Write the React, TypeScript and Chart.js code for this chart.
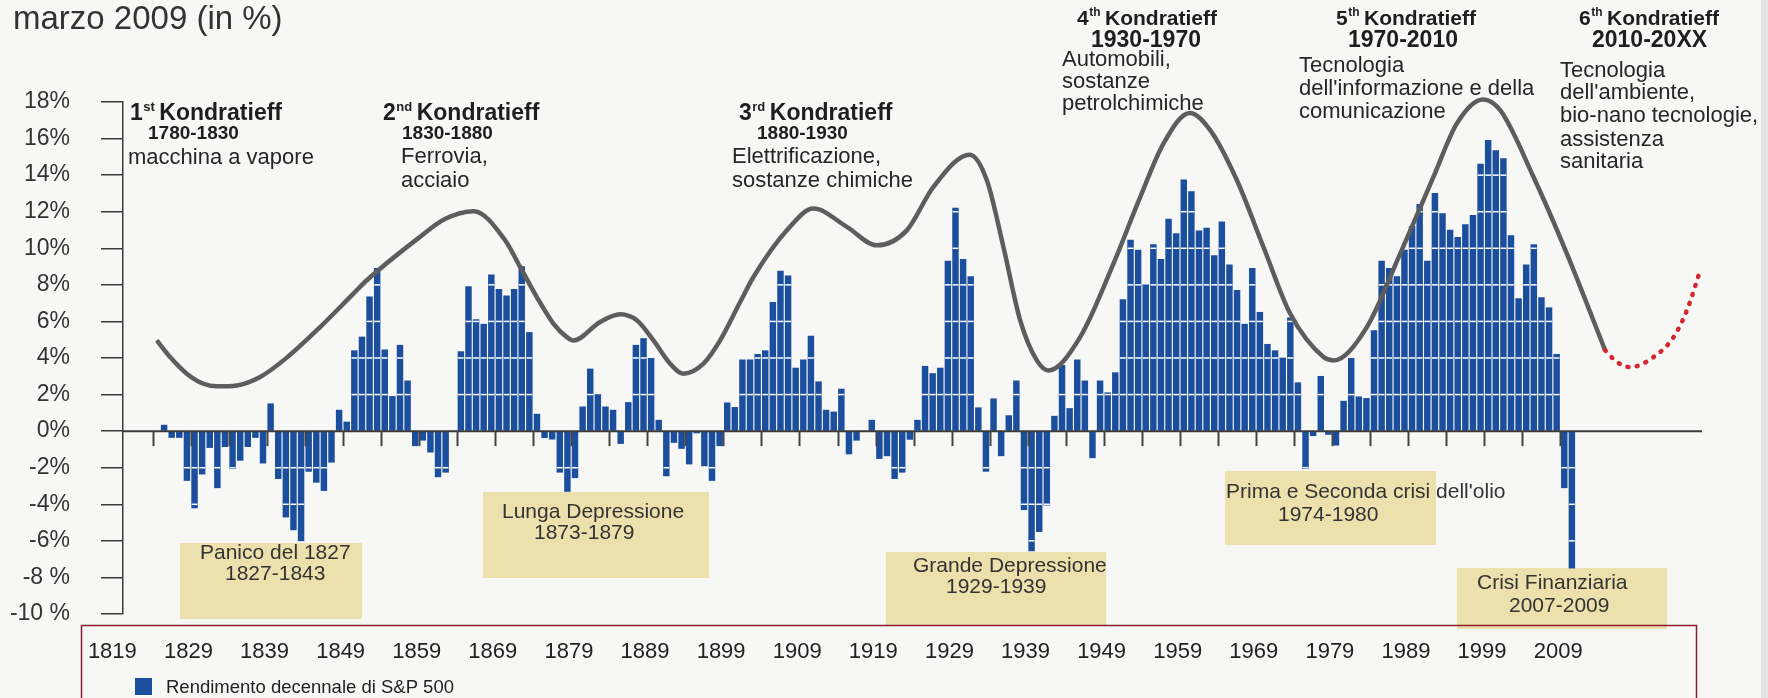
import React, { useEffect, useRef } from 'react';
import { Chart, registerables } from 'chart.js';

Chart.register(...registerables);

// ---------------- data ----------------
const firstYear = 1824;
// 10-year rolling return of the S&P 500 (in %), one value per year
const returns: number[] = [
  0.33, -0.35, -0.35, -2.7, -4.2, -2.35, -0.9, -3.1, -0.85, -2.05,
  -1.6, -0.85, -0.35, -1.75, 1.5, -2.6, -4.7, -5.4, -6.0, -2.2,
  -2.8, -3.25, -1.7, 1.15, 0.5, 4.4, 5.15, 7.35, 8.9, 4.45,
  1.9, 4.7, 2.75, -0.8, -0.5, -1.15, -2.5, -2.25, 0, 4.35,
  7.9, 6.1, 5.85, 8.55, 7.75, 7.4, 7.75, 9.0, 5.4, 0.93,
  -0.36, -0.44, -2.25, -3.3, -2.55, 1.33, 3.4, 2.0, 1.33, 1.15,
  -0.68, 1.57, 4.7, 5.07, 3.98, 0.6, -2.45, -0.62, -0.95, -1.8,
  -0.1, -1.9, -2.7, -0.8, 1.55, 1.3, 3.9, 3.9, 4.2, 4.4,
  7.05, 8.75, 8.5, 3.45, 3.9, 5.2, 2.7, 1.15, 1.05, 2.3,
  -1.25, -0.5, 0, 0.6, -1.5, -1.35, -2.6, -2.25, -0.45, 0.6,
  3.55, 3.15, 3.45, 9.3, 12.2, 9.4, 8.45, 1.28, -2.2, 1.77,
  -1.35, 0.85, 2.75, -4.3, -6.55, -5.5, -4.05, 0.82, 3.6, 1.24,
  3.9, 2.75, -1.46, 2.75, 2.1, 3.2, 7.2, 10.45, 9.9, 8.0,
  10.2, 9.4, 11.6, 10.8, 13.75, 13.1, 10.95, 11.1, 9.6, 11.45,
  9.1, 7.7, 5.85, 8.9, 6.5, 4.75, 4.4, 4.0, 6.2, 2.65,
  -2.05, -0.25, 3.0, -0.18, -0.77, 1.64, 3.98, 1.88, 1.79, 5.5,
  9.3, 8.9, 8.45, 9.9, 11.2, 12.4, 9.3, 13.0, 11.9, 11.0,
  10.6, 11.3, 11.8, 14.6, 15.9, 15.35, 14.9, 10.7, 7.25, 9.1,
  10.2, 7.3, 6.75, 4.2, -3.1, -7.5,
];
const years: number[] = returns.map((_, i) => firstYear + i);

// Kondratieff wave (stylised curve)
const waveX: number[] = [
  1823.04, 1824.79, 1826.98, 1829.16, 1830.93, 1833.55, 1836.62, 1840.13, 1844.5, 1848.88,
  1850.64, 1857.25, 1860.9, 1864.69, 1868.81, 1870.79, 1872.98, 1875.16, 1876.92, 1877.79,
  1881.3, 1883.93, 1886.12, 1888.31, 1890.5, 1892.25, 1894.88, 1897.07, 1899.7, 1901.45,
  1905.84, 1909.33, 1913.72, 1917.67, 1921.6, 1925.1, 1929.89, 1932.12, 1934.3, 1936.5,
  1938.69, 1940.22, 1944.38, 1948.76, 1952.27, 1955.33, 1958.79, 1961.47, 1964.98, 1968.47,
  1971.98, 1976.36, 1977.67, 1982.06, 1986.44, 1990.81, 1993.89, 1997.32, 1999.58, 2003.96,
  2008.34, 2013.37,
];
const waveY: number[] = [
  4.96, 4.05, 3.14, 2.59, 2.45, 2.5, 2.96, 4.02, 5.69, 7.52,
  8.25, 10.5, 11.6, 12.03, 10.44, 8.98, 7.33, 5.88, 5.14, 4.96,
  5.97, 6.39, 6.06, 4.96, 3.69, 3.14, 3.69, 4.96, 7.06, 8.43,
  10.98, 12.17, 11.17, 10.16, 10.98, 13.36, 15.12, 13.72, 10.07, 6.06,
  3.87, 3.32, 5.14, 9.16, 12.8, 15.73, 17.4, 16.46, 13.72, 10.07,
  6.43, 4.05, 3.87, 5.69, 9.71, 13.9, 16.83, 18.14, 17.55, 13.9,
  9.71, 4.42,
];
// projected next wave (dotted red)
const forecastX: number[] = [2013.37, 2014.92, 2016.67, 2019.73, 2022.36, 2024.12, 2025.87];
const forecastY: number[] = [4.42, 3.78, 3.5, 4.05, 5.14, 6.61, 8.8];

const yTickValues: number[] = [18, 16, 14, 12, 10, 8, 6, 4, 2, 0, -2, -4, -6, -8, -10];
const yTickLabels: string[] = ['18%', '16%', '14%', '12%', '10%', '8%', '6%', '4%', '2%', '0%', '-2%', '-4%', '-6%', '-8 %', '-10 %'];
const xTickLabels: string[] = ['1819', '1829', '1839', '1849', '1859', '1869', '1879', '1889', '1899', '1909', '1919', '1929', '1939', '1949', '1959', '1969', '1979', '1989', '1999', '2009'];

const titleText = 'marzo 2009 (in %)';
const legendLabel = 'Rendimento decennale di S&P 500';

const waveOrdinals: string[] = ['1', '2', '3', '4', '5', '6'];
const waveSuffixes: string[] = ['st', 'nd', 'rd', 'th', 'th', 'th'];
const wavePeriods: string[] = ['1780-1830', '1830-1880', '1880-1930', '1930-1970', '1970-2010', '2010-20XX'];
const waveThemes: string[][] = [
  ['macchina a vapore'],
  ['Ferrovia,', 'acciaio'],
  ['Elettrificazione,', 'sostanze chimiche'],
  ['Automobili,', 'sostanze', 'petrolchimiche'],
  ['Tecnologia', "dell'informazione e della", 'comunicazione'],
  ['Tecnologia', "dell'ambiente,", 'bio-nano tecnologie,', 'assistenza', 'sanitaria'],
];
const crisisNames: string[] = ['Panico del 1827', 'Lunga Depressione', 'Grande Depressione', "Prima e Seconda crisi dell'olio", 'Crisi Finanziaria'];
const crisisPeriods: string[] = ['1827-1843', '1873-1879', '1929-1939', '1974-1980', '2007-2009'];

// ---------------- layout & style ----------------
const W = 1768;
const H = 698;
const FAMILY = '"Liberation Sans", Arial, Helvetica, sans-serif';
const pageBg = '#f7f7f6';
const barColor = '#1b4f9d';
const waveColor = '#5d5d5d';
const forecastColor = '#d4262d';
const axisColor = '#3a3a3a';
const boxColor = '#ece1ad';
const frameColor = '#8e1d2d';

const xMin = 1818.6;
const xMax = 2026.1;
const xLabelShift = -1.8;
const minorTickStart = 1822.5;
const minorTickEnd = 2007.5;
const minorTickStep = 5;

const waveLayout = [
  { hx: 130, hy: 114, hs: 23, px: 148, py: 134, ps: 19, tx: 128, ty: [158] },
  { hx: 383, hy: 114, hs: 23, px: 402, py: 134, ps: 19, tx: 401, ty: [157, 181] },
  { hx: 739, hy: 114, hs: 23, px: 757, py: 134, ps: 19, tx: 732, ty: [157, 181] },
  { hx: 1077, hy: 19, hs: 21, px: 1091, py: 41, ps: 23, tx: 1062, ty: [60, 82, 104] },
  { hx: 1336, hy: 19, hs: 21, px: 1348, py: 41, ps: 23, tx: 1299, ty: [66, 89, 112] },
  { hx: 1579, hy: 19, hs: 21, px: 1592, py: 41, ps: 23, tx: 1560, ty: [71, 93, 116, 140, 162] },
];
const crisisLayout = [
  { box: [180, 543, 182, 76], x1: 200, y1: 553, x2: 225, y2: 574 },
  { box: [483, 492, 226, 86], x1: 502, y1: 512, x2: 534, y2: 533 },
  { box: [886, 552, 220, 74], x1: 913, y1: 566, x2: 946, y2: 587 },
  { box: [1225, 471, 211, 74], x1: 1226, y1: 492, x2: 1278, y2: 515 },
  { box: [1457, 568, 210, 61], x1: 1477, y1: 583, x2: 1509, y2: 606 },
];

function drawOrdinal(ctx: CanvasRenderingContext2D, x: number, y: number, size: number, num: string, suf: string, rest: string) {
  ctx.font = `bold ${size}px ${FAMILY}`;
  ctx.fillText(num, x, y);
  let w = ctx.measureText(num).width;
  const sup = Math.round(size * 0.57);
  ctx.font = `bold ${sup}px ${FAMILY}`;
  ctx.fillText(suf, x + w + 0.5, y - size * 0.3);
  w += ctx.measureText(suf).width + 5;
  ctx.font = `bold ${size}px ${FAMILY}`;
  ctx.fillText(rest, x + w, y);
}

const decorPlugin = {
  id: 'decor',
  beforeDraw(chart: any) {
    const { ctx } = chart;
    ctx.save();
    ctx.fillStyle = pageBg;
    ctx.fillRect(0, 0, W, H);
    ctx.fillStyle = '#e4e4e4';
    ctx.fillRect(W - 7, 0, 7, H);
    ctx.restore();
  },
  beforeDatasetsDraw(chart: any) {
    const { ctx } = chart;
    ctx.save();
    // title
    ctx.fillStyle = '#333';
    ctx.textAlign = 'left';
    ctx.textBaseline = 'alphabetic';
    ctx.font = `33px ${FAMILY}`;
    ctx.fillText(titleText, 13, 29);

    // Kondratieff labels
    ctx.textBaseline = 'middle';
    waveLayout.forEach((L, i) => {
      ctx.fillStyle = '#1e1e1e';
      drawOrdinal(ctx, L.hx, L.hy, L.hs, waveOrdinals[i], waveSuffixes[i], 'Kondratieff');
      ctx.font = `bold ${L.ps}px ${FAMILY}`;
      ctx.fillText(wavePeriods[i], L.px, L.py);
      ctx.fillStyle = '#262626';
      ctx.font = `22px ${FAMILY}`;
      waveThemes[i].forEach((t, j) => ctx.fillText(t, L.tx, L.ty[j]));
    });

    // crisis boxes
    crisisLayout.forEach((C, i) => {
      ctx.fillStyle = boxColor;
      ctx.fillRect(C.box[0], C.box[1], C.box[2], C.box[3]);
      ctx.fillStyle = '#333';
      ctx.font = `21px ${FAMILY}`;
      ctx.fillText(crisisNames[i], C.x1, C.y1);
      ctx.fillText(crisisPeriods[i], C.x2, C.y2);
    });
    ctx.restore();
  },
  afterDatasetDraw(chart: any, args: any) {
    if (args.index !== 0) return;
    const { ctx, chartArea } = chart;
    const xs = chart.scales.x;
    const ys = chart.scales.y;
    ctx.save();
    // white grid lines across the bars
    ctx.strokeStyle = '#ffffff';
    ctx.lineWidth = 1.5;
    const levels = yTickValues.filter((v) => v !== 0).map((v) => ys.getPixelForValue(v));
    args.meta.data.forEach((bar: any) => {
      const p = bar.getProps(['x', 'y', 'base', 'width'], true);
      const top = Math.min(p.y, p.base);
      const bottom = Math.max(p.y, p.base);
      levels.forEach((py: number) => {
        if (py > top + 0.8 && py < bottom - 0.8) {
          ctx.beginPath();
          ctx.moveTo(p.x - p.width / 2, py);
          ctx.lineTo(p.x + p.width / 2, py);
          ctx.stroke();
        }
      });
    });
    // zero line
    const y0 = ys.getPixelForValue(0);
    ctx.strokeStyle = axisColor;
    ctx.lineWidth = 2;
    ctx.beginPath();
    ctx.moveTo(chartArea.left, y0);
    ctx.lineTo(chartArea.right, y0);
    ctx.stroke();
    // minor ticks under the zero line
    ctx.strokeStyle = '#444';
    ctx.lineWidth = 2;
    for (let u = minorTickStart; u <= minorTickEnd + 0.01; u += minorTickStep) {
      const px = Math.round(xs.getPixelForValue(u)) + 0.5;
      ctx.beginPath();
      ctx.moveTo(px, y0);
      ctx.lineTo(px, y0 + 15);
      ctx.stroke();
    }
    ctx.restore();
  },
  afterDraw(chart: any) {
    const { ctx } = chart;
    ctx.save();
    // red frame around the year labels and legend
    ctx.strokeStyle = frameColor;
    ctx.lineWidth = 1.5;
    ctx.strokeRect(81.5, 625.5, 1615, 100);
    // legend
    ctx.fillStyle = barColor;
    ctx.fillRect(135, 678, 17, 17);
    ctx.fillStyle = '#222';
    ctx.font = `18.5px ${FAMILY}`;
    ctx.textAlign = 'left';
    ctx.textBaseline = 'middle';
    ctx.fillText(chart.data.datasets[0].label, 166, 688);
    ctx.restore();
  },
};

export default function App() {
  const canvasRef = useRef<HTMLCanvasElement | null>(null);

  useEffect(() => {
    const canvas = canvasRef.current;
    if (!canvas) return;
    const chart = new Chart(canvas, {
      type: 'bar',
      data: {
        datasets: [
          {
            type: 'bar',
            label: legendLabel,
            data: years.map((x, i) => ({ x, y: returns[i] })),
            backgroundColor: barColor,
            barThickness: 5.8,
            order: 3,
          } as any,
          {
            type: 'line',
            label: 'Kondratieff',
            data: waveX.map((x, i) => ({ x, y: waveY[i] })),
            borderColor: waveColor,
            borderWidth: 4.5,
            pointRadius: 0,
            cubicInterpolationMode: 'monotone',
            fill: false,
            clip: false,
            order: 2,
          } as any,
          {
            type: 'line',
            label: 'Previsione',
            data: forecastX.map((x, i) => ({ x, y: forecastY[i] })),
            borderColor: forecastColor,
            borderWidth: 4.5,
            borderDash: [1, 8.4],
            borderCapStyle: 'round',
            pointRadius: 0,
            cubicInterpolationMode: 'monotone',
            fill: false,
            clip: false,
            order: 1,
          } as any,
        ],
      },
      options: {
        responsive: false,
        animation: false,
        devicePixelRatio: 1,
        layout: { padding: { left: 10, right: 66, top: 102, bottom: 0 } },
        plugins: {
          legend: { display: false },
          tooltip: { enabled: false },
          title: { display: false },
        },
        scales: {
          x: {
            type: 'linear',
            min: xMin,
            max: xMax,
            offset: false,
            grid: { display: false, drawTicks: false },
            border: { display: false },
            afterBuildTicks: (s: any) => {
              s.ticks = xTickLabels.map((l) => ({ value: Number(l) + xLabelShift }));
            },
            afterFit: (s: any) => {
              s.height = 84;
            },
            ticks: {
              autoSkip: false,
              maxRotation: 0,
              minRotation: 0,
              padding: 25,
              color: '#222',
              font: { family: FAMILY, size: 22 },
              callback: (_v: any, i: number) => xTickLabels[i],
            },
          },
          y: {
            min: -10,
            max: 18,
            afterBuildTicks: (s: any) => {
              s.ticks = [...yTickValues].reverse().map((v) => ({ value: v }));
            },
            afterFit: (s: any) => {
              s.width = 113;
            },
            grid: { drawOnChartArea: false, drawTicks: true, tickLength: 22, color: axisColor, lineWidth: 1.5 },
            border: { display: true, color: axisColor, width: 1.5 },
            ticks: {
              padding: 31,
              color: '#333',
              font: { family: FAMILY, size: 23 },
              callback: (v: any) => yTickLabels[yTickValues.indexOf(Number(v))],
            },
          },
        },
      } as any,
      plugins: [decorPlugin],
    });
    return () => chart.destroy();
  }, []);

  return (
    <div style={{ position: 'fixed', left: 0, top: 0, width: W, height: H, background: pageBg, overflow: 'hidden' }}>
      <canvas ref={canvasRef} width={W} height={H} style={{ display: 'block', width: W, height: H }} />
    </div>
  );
}
